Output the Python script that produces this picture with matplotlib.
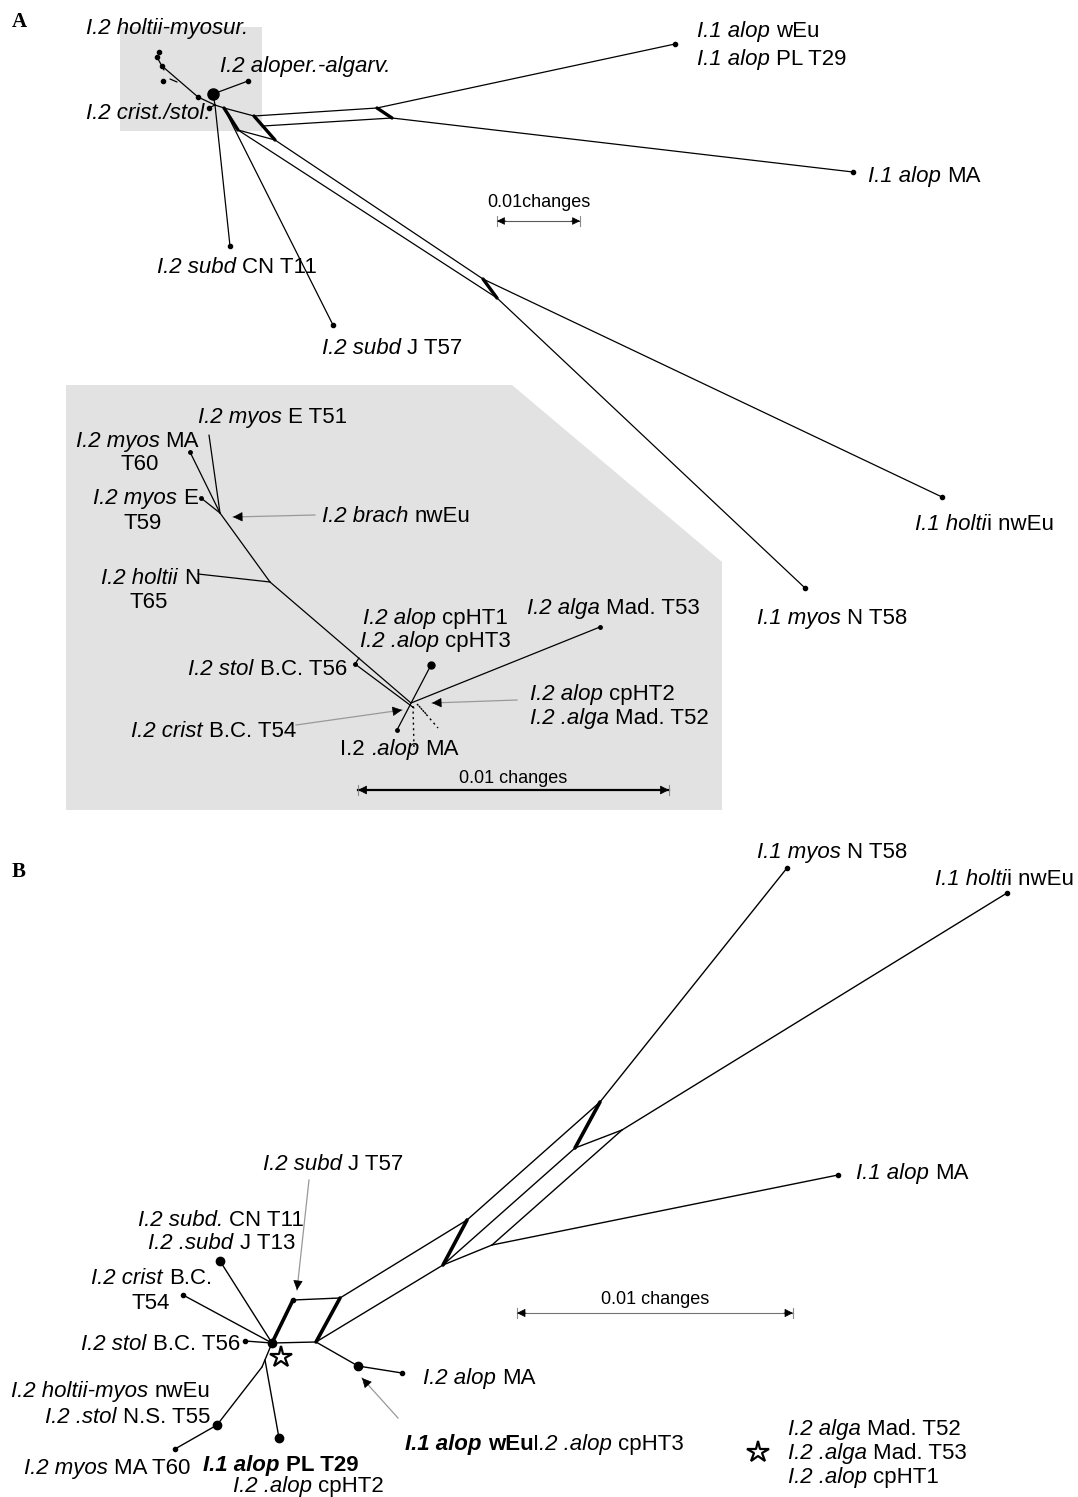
import matplotlib.pyplot as plt
import numpy as np
from matplotlib.patches import Polygon
from matplotlib.transforms import offset_copy

plt.rcParams['font.family'] = ['Liberation Sans', 'DejaVu Sans']

W, H = 1078, 1497
FS = 16

# ---- network geometry (node positions, pixel space of the original figure) ----
nodes_a = {
    'hub': (215, 105), 'alo_knot': (213, 94), 'alo_tip': (248, 81),
    'hm1': (159, 52), 'hm2': (157, 57), 'hm3': (162, 66), 'hm4': (164, 70),
    'hm5': (163, 81), 'hm_j': (198, 97), 'hm_s1': (170, 79), 'hm_s2': (177, 82),
    'cs_tip': (209, 108),
    'a1': (224, 108), 'p': (254, 116), 'q': (238, 130), 'r': (275, 140), 'c2': (263, 126),
    'd1': (377, 108), 'd2': (392, 118), 's1': (483, 279), 's2': (497, 298),
    'subd_cn': (230, 246), 'subd_j': (333, 325), 'alop_weu': (675, 44),
    'alop_ma': (853, 172), 'holtii_nweu': (942, 497), 'myos_n': (805, 588),
}
thin_a = [('hub', 'subd_cn'), ('a1', 'subd_j'), ('hub', 'a1'), ('a1', 'p'), ('q', 'r'),
          ('p', 'd1'), ('c2', 'd2'), ('d1', 'alop_weu'), ('d2', 'alop_ma'),
          ('q', 's2'), ('r', 's1'), ('s1', 'holtii_nweu'), ('s2', 'myos_n'),
          ('hub', 'alo_knot'), ('alo_knot', 'alo_tip'), ('hm3', 'hm_j'), ('hm_j', 'hub'),
          ('hm2', 'hm4'), ('hm_s1', 'hm_s2'), ('cs_tip', 'hub')]
thick_a = [('a1', 'q'), ('p', 'r'), ('d1', 'd2'), ('s1', 's2')]
tips_a = ['hm1', 'hm2', 'hm3', 'hm5', 'hm_j', 'alo_tip', 'cs_tip', 'subd_cn', 'subd_j',
          'alop_weu', 'alop_ma', 'holtii_nweu', 'myos_n']

nodes_in = {
    't60': (190, 452), 't51': (209, 435), 'j1': (220, 513), 't59': (201, 498),
    'hol_tip': (198, 574), 'j2': (270, 582), 'hub': (411, 703),
    'stol': (355, 664), 'stol_j': (359, 658), 'stol_end': (414, 708),
    'cp1': (431, 665), 'ma': (397, 730), 't53': (600, 627),
}
thin_in = [('t60', 'j1'), ('t51', 'j1'), ('t59', 'j1'), ('j1', 'j2'), ('hol_tip', 'j2'),
           ('j2', 'hub'), ('stol', 'stol_end'), ('stol', 'stol_j'), ('cp1', 'ma'), ('hub', 't53')]
tips_in = ['t60', 't59', 'stol', 'ma', 't53']
dotted_in = [((413, 706), (414, 748)), ((419, 706), (438, 728)), ((417, 704), (428, 716))]

nodes_b = {
    'n0': (272, 1343), 'n1': (293, 1300), 'n2': (340, 1298), 'n3': (316, 1342),
    'n4': (467, 1220), 'n5': (443, 1265), 'n6': (492, 1245),
    'n7': (600, 1102), 'n8': (575, 1148), 'n9': (622, 1130),
    'myos_n': (787, 868), 'holtii_nweu': (1007, 893), 'alop_ma1': (838, 1175),
    'subd_cn': (220, 1261), 'crist': (183, 1295), 'stol': (245, 1341),
    'down': (262, 1367), 'mid': (265, 1360), 'hm': (217, 1425), 'myos_ma': (175, 1449),
    'alop_pl': (279, 1438), 'alop_j': (358, 1366), 'alop_ma2': (402, 1373),
}
thin_b = [('n1', 'n2'), ('n0', 'n3'), ('n2', 'n4'), ('n3', 'n5'), ('n4', 'n7'), ('n5', 'n8'),
          ('n5', 'n6'), ('n6', 'n9'), ('n8', 'n9'), ('n7', 'myos_n'), ('n9', 'holtii_nweu'),
          ('n6', 'alop_ma1'), ('n0', 'subd_cn'), ('n0', 'crist'), ('n0', 'stol'),
          ('n0', 'down'), ('down', 'hm'), ('hm', 'myos_ma'), ('mid', 'alop_pl'),
          ('n3', 'alop_j'), ('alop_j', 'alop_ma2')]
thick_b = [('n0', 'n1'), ('n2', 'n3'), ('n4', 'n5'), ('n7', 'n8')]
tips_b = ['n1', 'myos_n', 'holtii_nweu', 'alop_ma1', 'crist', 'stol', 'myos_ma', 'alop_ma2']
big_b = ['n0', 'subd_cn', 'hm', 'alop_pl', 'alop_j']

# ---- labels: (text, x, y, ha, bold); *...* marks italic ----
labels = [
    ('*I.2 holtii-myosur.*', 167, 27, 'center', False),
    ('*I.2 aloper.-algarv.*', 220, 65, 'left', False),
    ('*I.2 crist./stol.*', 211, 112, 'right', False),
    ('*I.1 alop* wEu', 697, 30, 'left', False),
    ('*I.1 alop* PL T29', 697, 58, 'left', False),
    ('*I.1 alop* MA', 868, 175, 'left', False),
    ('*I.2 subd* CN T11', 157, 266, 'left', False),
    ('*I.2 subd* J T57', 322, 347, 'left', False),
    ('*I.1 holti*i nwEu', 915, 523, 'left', False),
    ('*I.1 myos* N T58', 757, 617, 'left', False),
    ('*I.2 myos* E T51', 198, 416, 'left', False),
    ('*I.2 myos* MA', 199, 440, 'right', False),
    ('T60', 140, 463, 'center', False),
    ('*I.2 myos* E', 198, 497, 'right', False),
    ('T59', 143, 522, 'center', False),
    ('*I.2 brach* nwEu', 322, 515, 'left', False),
    ('*I.2 holtii* N', 200, 577, 'right', False),
    ('T65', 149, 601, 'center', False),
    ('*I.2 alop* cpHT1', 363, 617, 'left', False),
    ('*I.2 .alop* cpHT3', 360, 640, 'left', False),
    ('*I.2 alga* Mad. T53', 527, 607, 'left', False),
    ('*I.2 stol* B.C. T56', 347, 668, 'right', False),
    ('*I.2 alop* cpHT2', 530, 693, 'left', False),
    ('*I.2 .alga* Mad. T52', 530, 717, 'left', False),
    ('*I.2 crist* B.C. T54', 296, 730, 'right', False),
    ('I.2 *.alop* MA', 340, 748, 'left', False),
    ('*I.1 myos* N T58', 757, 851, 'left', False),
    ('*I.1 holti*i nwEu', 935, 878, 'left', False),
    ('*I.2 subd* J T57', 263, 1163, 'left', False),
    ('*I.1 alop* MA', 856, 1172, 'left', False),
    ('*I.2 subd.* CN T11', 304, 1219, 'right', False),
    ('*I.2 .subd* J T13', 295, 1242, 'right', False),
    ('*I.2 crist* B.C.', 212, 1277, 'right', False),
    ('T54', 151, 1302, 'center', False),
    ('*I.2 stol* B.C. T56', 240, 1343, 'right', False),
    ('*I.2 holtii-myos* nwEu', 210, 1390, 'right', False),
    ('*I.2 .stol* N.S. T55', 210, 1416, 'right', False),
    ('*I.2 myos* MA T60', 190, 1467, 'right', False),
    ('*I.1 alop* PL T29', 203, 1464, 'left', True),
    ('*I.2 .alop* cpHT2', 233, 1485, 'left', False),
    ('*I.2 alop* MA', 423, 1377, 'left', False),
    ('*I.2 alga* Mad. T52', 788, 1428, 'left', False),
    ('*I.2 .alga* Mad. T53', 788, 1452, 'left', False),
    ('*I.2 .alop* cpHT1', 788, 1476, 'left', False),
]
# pieces: (text, italic, bold)
mixed_pieces = [('I.1 alop', True, True), (' wEu', False, True), ('I', False, False),
                ('.2 .alop', True, False), (' cpHT3', False, False)]
mixed_anchor = (405, 1443)

pointers = [((315, 515), (233, 517)), ((296, 725), (402, 710)), ((517, 700), (432, 703)),
            ((309, 1180), (297, 1290)), ((398, 1418), (362, 1378))]


fig = plt.figure(figsize=(W / 100, H / 100), dpi=100)
ax = fig.add_axes([0, 0, 1, 1])
ax.set_xlim(0, W)
ax.set_ylim(H, 0)
ax.axis('off')
renderer = fig.canvas.get_renderer()

grey = '#e2e2e2'
ax.add_patch(Polygon([(120, 27), (262, 27), (262, 131), (120, 131)], closed=True,
                     fc=grey, ec='none', zorder=0))
ax.add_patch(Polygon([(66, 385), (512, 385), (722, 562), (722, 810), (66, 810)], closed=True,
                     fc=grey, ec='none', zorder=0))


def draw_edges(nodes, pairs, lw):
    for a, b in pairs:
        (x1, y1), (x2, y2) = nodes[a], nodes[b]
        ax.plot([x1, x2], [y1, y2], color='k', lw=lw, solid_capstyle='round', zorder=2)


def draw_dots(nodes, names, ms):
    xs = [nodes[n][0] for n in names]
    ys = [nodes[n][1] for n in names]
    ax.plot(xs, ys, 'o', color='k', ms=ms, zorder=3)


draw_edges(nodes_a, thin_a, 0.9)
draw_edges(nodes_a, thick_a, 2.4)
draw_dots(nodes_a, tips_a, 3)
draw_dots(nodes_a, ['alo_knot'], 8)

draw_edges(nodes_in, thin_in, 0.9)
draw_dots(nodes_in, tips_in, 2.5)
draw_dots(nodes_in, ['cp1'], 5)
for (x1, y1), (x2, y2) in dotted_in:
    ax.plot([x1, x2], [y1, y2], color='k', lw=1.0, ls=(0, (1.5, 2.5)), zorder=2)

draw_edges(nodes_b, thin_b, 1.0)
draw_edges(nodes_b, thick_b, 2.6)
draw_dots(nodes_b, tips_b, 3)
draw_dots(nodes_b, big_b, 6)


def head(tip, frm, color='k', size=15):
    d = np.subtract(tip, frm).astype(float)
    d /= np.hypot(*d)
    ax.annotate('', xy=tip, xytext=(tip[0] - d[0] * 9, tip[1] - d[1] * 9),
                arrowprops=dict(arrowstyle='-|>', color=color, lw=0.5,
                                mutation_scale=size, shrinkA=0, shrinkB=0), zorder=4)


for frm, tip in pointers:
    ax.plot([frm[0], tip[0]], [frm[1], tip[1]], color='0.6', lw=0.9, zorder=1)
    head(tip, frm)


def scalebar(x0, x1, y, lw, color, size, text, ty, fs):
    ax.plot([x0, x1], [y, y], color=color, lw=lw, zorder=2)
    for x in (x0, x1):
        ax.plot([x, x], [y - 5, y + 5], color='0.55', lw=0.8, zorder=2)
    head((x0, y), (x1, y), size=size)
    head((x1, y), (x0, y), size=size)
    ax.text((x0 + x1) / 2, ty, text, ha='center', va='baseline', fontsize=fs)


scalebar(497, 580, 221, 0.8, '0.35', 12, '0.01changes', 207, 13)
scalebar(358, 669, 790, 1.6, 'k', 14, '0.01 changes', 783, 13)
scalebar(517, 793, 1313, 0.8, '0.45', 13, '0.01 changes', 1304, 13)


def text_width(s, italic=False, bold=False):
    t = ax.text(0, 0, s, fontsize=FS, fontstyle='italic' if italic else 'normal',
                fontweight='bold' if bold else 'normal')
    w = t.get_window_extent(renderer).width
    t.remove()
    return w


SPACE = text_width('a a') - text_width('aa')


def parse(s, bold):
    return [(p, i % 2 == 1, bold) for i, p in enumerate(s.split('*')) if p]


def rich(x, y, pieces, ha):
    items = []
    for txt, it, bd in pieces:
        lead = len(txt) - len(txt.lstrip(' '))
        trail = len(txt) - len(txt.rstrip(' '))
        core = txt.strip(' ')
        items.append((core, it, bd, lead, trail))
    total = 0
    for core, it, bd, lead, trail in items:
        total += (lead + trail) * SPACE + text_width(core, it, bd)
    if ha == 'right':
        dx = -total
    elif ha == 'center':
        dx = -total / 2
    else:
        dx = 0
    for core, it, bd, lead, trail in items:
        dx += lead * SPACE
        tr = offset_copy(ax.transData, fig=fig, x=dx, y=0, units='dots')
        ax.text(x, y + 7, core, transform=tr, ha='left', va='baseline', fontsize=FS,
                fontstyle='italic' if it else 'normal', fontweight='bold' if bd else 'normal')
        dx += text_width(core, it, bd) + trail * SPACE


for text, x, y, ha, bold in labels:
    rich(x, y, parse(text, bold), ha)
rich(mixed_anchor[0], mixed_anchor[1], mixed_pieces, 'left')

ax.plot([281, 758], [1357, 1452], ls='none', marker='*', ms=16, mfc='white', mec='k', mew=1.6, zorder=5)

ax.text(12, 27, 'A', fontsize=15, fontweight='bold', family='Liberation Serif', va='baseline')
ax.text(12, 877, 'B', fontsize=15, fontweight='bold', family='Liberation Serif', va='baseline')

fig.savefig('out.png', dpi=100)
